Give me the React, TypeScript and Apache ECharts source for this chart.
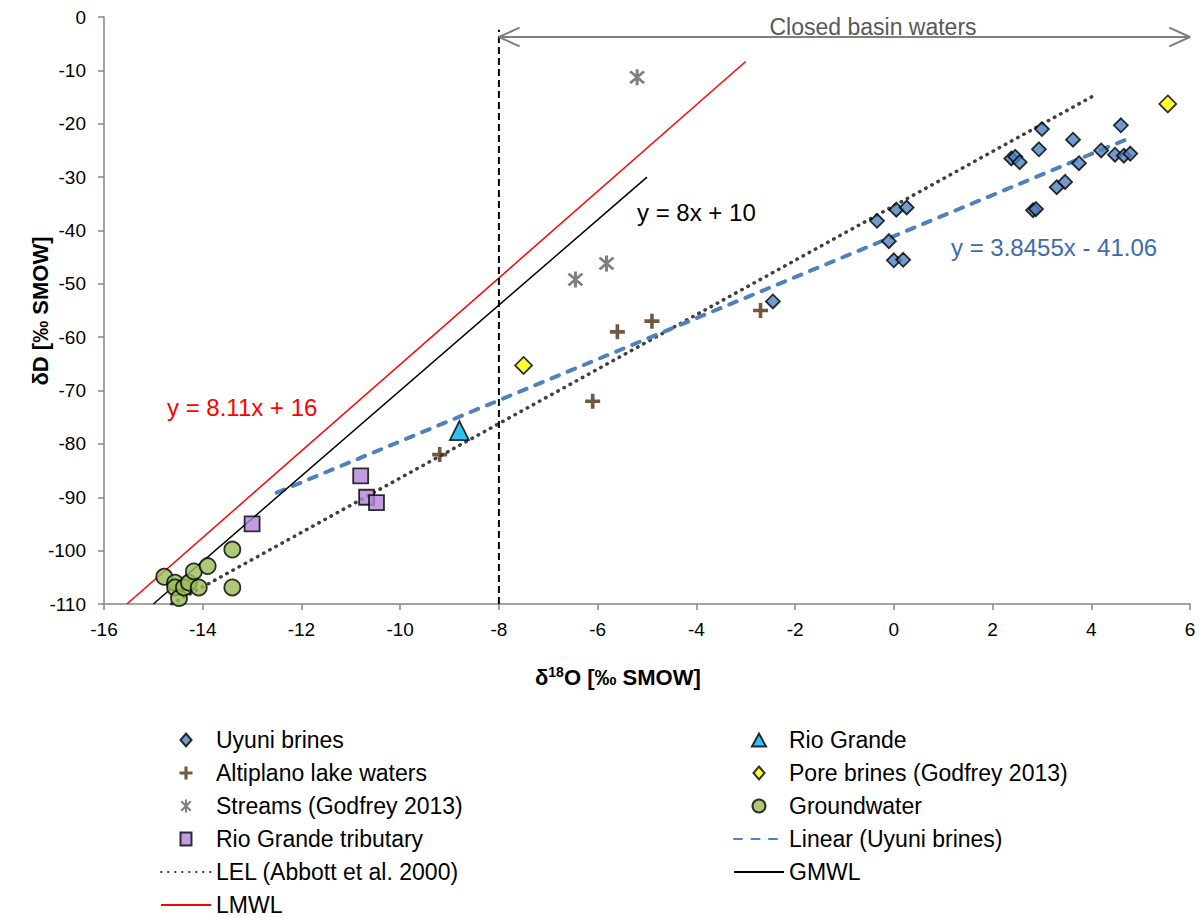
import React, { useEffect, useRef } from "react";
import * as echarts from "echarts";

// ---- data (δ18O, δD) ----
const uyuniBrines: number[][] = [
  [-2.45, -53.3], [-0.34, -38.2], [0.05, -36.1], [0.26, -35.7], [-0.1, -42.0],
  [0.0, -45.6], [0.19, -45.5], [3.0, -21.0], [4.6, -20.3], [3.63, -23.0],
  [2.94, -24.8], [2.38, -26.5], [2.46, -26.2], [2.55, -27.2], [3.75, -27.4],
  [4.2, -25.0], [4.48, -25.8], [4.66, -26.0], [4.79, -25.6], [3.3, -31.9],
  [3.47, -30.9], [2.82, -36.2], [2.88, -36.0],
];
const altiplanoLakes: number[][] = [
  [-9.2, -82.0], [-6.1, -72.0], [-5.6, -59.0], [-4.9, -57.0], [-2.7, -55.0],
];
const streams: number[][] = [
  [-5.2, -11.3], [-6.45, -49.2], [-5.82, -46.2],
];
const rioGrandeTributary: number[][] = [
  [-13.0, -95.0], [-10.8, -86.0], [-10.68, -90.0], [-10.48, -91.0],
];
const rioGrande: number[][] = [[-8.8, -77.5]];
const poreBrines: number[][] = [[-7.5, -65.3], [5.55, -16.3]];
const groundwater: number[][] = [
  [-14.78, -104.9], [-14.56, -106.0], [-14.56, -106.9], [-14.48, -108.9],
  [-14.38, -106.9], [-14.28, -106.0], [-14.18, -103.9], [-14.08, -106.9],
  [-13.9, -102.9], [-13.4, -99.8], [-13.4, -106.9],
];
const lelLine: number[][] = [[-14.63, -110], [4.04, -14.8]];
const gmwlLine: number[][] = [[-15, -110], [-5, -30]];
const lmwlLine: number[][] = [[-15.535, -110], [-3, -8.33]];
const linearUyuni: number[][] = [[-12.5, -89.13], [4.79, -22.64]];
const basinBoundary: number[][] = [[-8, -110], [-8, -2.4]];
const basinArrowShaft: number[][] = [[-8, -3.75], [6, -3.75]];
const basinArrowLeft: number[][] = [[-7.58, -2.0], [-8, -3.75], [-7.58, -5.5]];
const basinArrowRight: number[][] = [[5.58, -2.0], [6, -3.75], [5.58, -5.5]];

const xTicks = { min: -16, max: 6, interval: 2 };
const yTicks = { min: -110, max: 0, interval: 10 };

const FONT = "'Liberation Sans', Arial, sans-serif";
const PLUS = "path://M3.8,0H6.2V3.8H10V6.2H6.2V10H3.8V6.2H0V3.8H3.8Z";
const STAR =
  "path://M4.2,0H5.8V10H4.2Z M1.9,0.8L9.2,8.1L8.1,9.2L0.8,1.9Z M8.1,0.8L9.2,1.9L1.9,9.2L0.8,8.1Z";
const LEG_DIAMOND = "path://M6,0L12,7L6,14L0,7Z";
const LEG_SQUARE = "path://M0,0H11V13H0Z";
const LEG_TRIANGLE = "path://M6,0L12,11H0Z";

const hideDot = { itemStyle: { opacity: 0 } };
const leftLegend = [
  { name: "Uyuni brines", icon: LEG_DIAMOND },
  { name: "Altiplano lake waters", icon: PLUS },
  { name: "Streams (Godfrey 2013)", icon: STAR },
  { name: "Rio Grande tributary", icon: LEG_SQUARE },
  { name: "LEL (Abbott et al. 2000)", ...hideDot },
  { name: "LMWL", ...hideDot },
];
const rightLegend = [
  { name: "Rio Grande", icon: LEG_TRIANGLE },
  { name: "Pore brines (Godfrey 2013)", icon: LEG_DIAMOND },
  { name: "Groundwater", icon: "circle" },
  { name: "Linear (Uyuni brines)", ...hideDot },
  { name: "GMWL", ...hideDot },
];

export default function App() {
  const ref = useRef<HTMLDivElement>(null);

  useEffect(() => {
    document.body.style.margin = "0";
    if (!ref.current) return;
    const chart = echarts.init(ref.current, undefined, { renderer: "svg" });
    const axisColor = "#868686";
    const border = { borderColor: "#000", borderWidth: 1.8 };
    const legendCommon = {
      orient: "vertical" as const,
      top: 728,
      padding: 0,
      itemWidth: 50,
      itemHeight: 13,
      itemGap: 9,
      symbolKeepAspect: true,
      textStyle: { fontSize: 23, color: "#000", fontFamily: FONT, lineHeight: 24 },
    };
    chart.setOption({
      animation: false,
      backgroundColor: "#fff",
      textStyle: { fontFamily: FONT },
      grid: { left: 104, right: 13, top: 17, bottom: 313 },
      xAxis: {
        type: "value",
        ...xTicks,
        axisLine: { onZero: false, lineStyle: { color: axisColor, width: 1.5 } },
        axisTick: { show: true, length: 6, lineStyle: { color: axisColor, width: 1.5 } },
        axisLabel: { fontSize: 19, color: "#000", margin: 16, fontFamily: FONT },
        splitLine: { show: false },
      },
      yAxis: {
        type: "value",
        ...yTicks,
        axisLine: { onZero: false, lineStyle: { color: axisColor, width: 1.5 } },
        axisTick: { show: true, length: 6, lineStyle: { color: axisColor, width: 1.5 } },
        axisLabel: { fontSize: 19, color: "#000", margin: 18, fontFamily: FONT },
        splitLine: { show: false },
      },
      legend: [
        { ...legendCommon, left: 160, data: leftLegend },
        { ...legendCommon, left: 733, data: rightLegend },
      ],
      series: [
        {
          name: "LEL (Abbott et al. 2000)", type: "line", data: lelLine, symbol: "none", z: 2,
          lineStyle: { color: "#404040", width: 3.5, type: [0.5, 6.5], cap: "round" },
          itemStyle: { color: "#404040" },
        },
        {
          name: "Linear (Uyuni brines)", type: "line", data: linearUyuni, symbol: "none", z: 2,
          lineStyle: { color: "#4f81bd", width: 4, type: [8, 9.5], cap: "round" },
          itemStyle: { color: "#4f81bd" },
        },
        {
          name: "GMWL", type: "line", data: gmwlLine, symbol: "none", z: 2,
          lineStyle: { color: "#000", width: 1.5 }, itemStyle: { color: "#000" },
        },
        {
          name: "LMWL", type: "line", data: lmwlLine, symbol: "none", z: 2,
          lineStyle: { color: "#ff0000", width: 1.5 }, itemStyle: { color: "#ff0000" },
        },
        {
          name: "boundary", type: "line", data: basinBoundary, symbol: "none", z: 2,
          lineStyle: { color: "#000", width: 2, type: [7, 4] },
        },
        {
          name: "arrowShaft", type: "line", data: basinArrowShaft, symbol: "none", z: 2,
          lineStyle: { color: "#7f7f7f", width: 2 },
        },
        {
          name: "arrowLeft", type: "line", data: basinArrowLeft, symbol: "none", z: 2,
          lineStyle: { color: "#7f7f7f", width: 2 },
        },
        {
          name: "arrowRight", type: "line", data: basinArrowRight, symbol: "none", z: 2,
          lineStyle: { color: "#7f7f7f", width: 2 },
        },
        {
          name: "Uyuni brines", type: "scatter", data: uyuniBrines, symbol: "diamond", symbolSize: 14, z: 5,
          itemStyle: { color: "#4f81bd", ...border },
        },
        {
          name: "Altiplano lake waters", type: "scatter", data: altiplanoLakes, symbol: PLUS, symbolSize: 15, z: 5,
          itemStyle: { color: "#4e2f12" },
        },
        {
          name: "Streams (Godfrey 2013)", type: "scatter", data: streams, symbol: STAR, symbolSize: 16, z: 5,
          itemStyle: { color: "#5f5f5f" },
        },
        {
          name: "Rio Grande tributary", type: "scatter", data: rioGrandeTributary, symbol: "rect", symbolSize: 15, z: 5,
          itemStyle: { color: "#b283d8", ...border },
        },
        {
          name: "Rio Grande", type: "scatter", data: rioGrande, symbol: "triangle", symbolSize: 19, z: 5,
          itemStyle: { color: "#00b0f0", ...border },
        },
        {
          name: "Pore brines (Godfrey 2013)", type: "scatter", data: poreBrines, symbol: "diamond", symbolSize: 17, z: 5,
          itemStyle: { color: "#ffff00", ...border },
        },
        {
          name: "Groundwater", type: "scatter", data: groundwater, symbol: "circle", symbolSize: 16, z: 5,
          itemStyle: { color: "#9bbb59", ...border },
        },
      ],
      graphic: [
        {
          type: "text", x: 873, y: 27, z: 10,
          style: { text: "Closed basin waters", fill: "#595959", fontSize: 23, fontFamily: FONT, align: "center", verticalAlign: "middle" },
        },
        {
          type: "text", x: 637, y: 212, z: 10,
          style: { text: "y = 8x + 10", fill: "#000", fontSize: 24, fontFamily: FONT, verticalAlign: "middle" },
        },
        {
          type: "text", x: 951, y: 247, z: 10,
          style: { text: "y = 3.8455x - 41.06", fill: "#3f6ba8", fontSize: 24, fontFamily: FONT, verticalAlign: "middle" },
        },
        {
          type: "text", x: 167, y: 407, z: 10,
          style: { text: "y = 8.11x + 16", fill: "#ff0000", fontSize: 24, fontFamily: FONT, verticalAlign: "middle" },
        },
        {
          type: "text", x: 40, y: 311, rotation: Math.PI / 2, z: 10,
          style: {
            text: "δD [‰ SMOW]", fill: "#000", fontSize: 22, fontWeight: "bold", fontFamily: FONT,
            align: "center", verticalAlign: "middle",
          },
        },
        {
          type: "text", x: 535, y: 677, z: 10,
          style: {
            text: "{b|δ}{s|18}{b|O [‰ SMOW]}",
            verticalAlign: "middle",
            rich: {
              b: { fontSize: 22, fontWeight: "bold", fill: "#000", fontFamily: FONT, lineHeight: 24 },
              s: { fontSize: 14, fontWeight: "bold", fill: "#000", fontFamily: FONT, verticalAlign: "top", lineHeight: 24 },
            },
          },
        },
      ],
    });
    return () => chart.dispose();
  }, []);

  return <div ref={ref} style={{ width: 1203, height: 917 }} />;
}
